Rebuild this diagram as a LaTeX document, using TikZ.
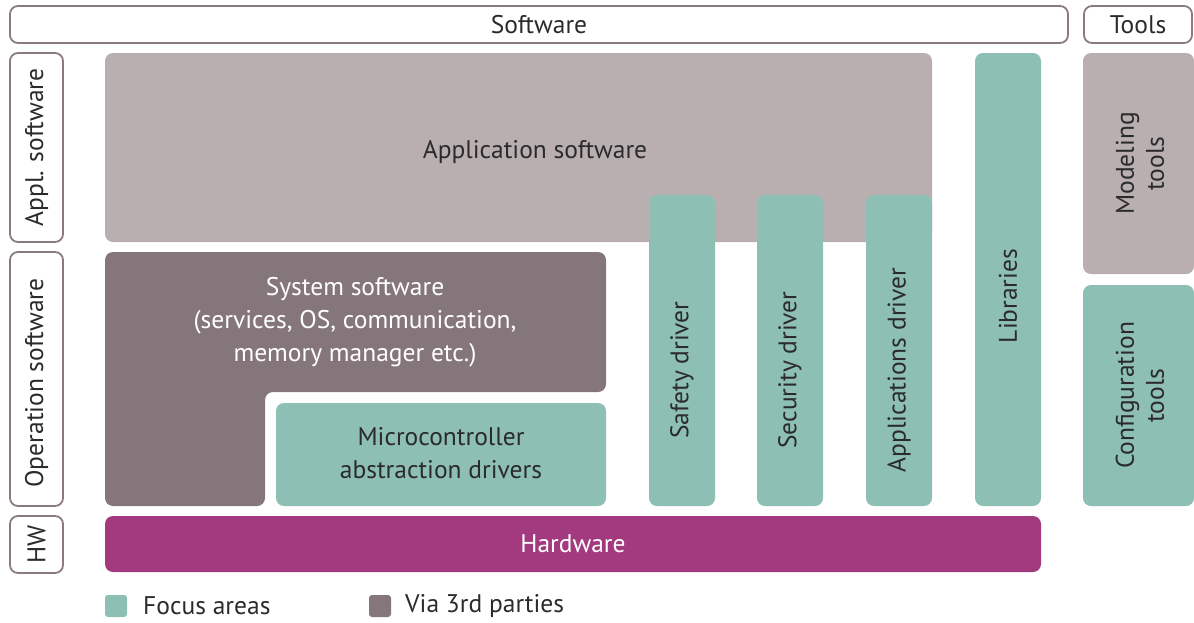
\documentclass[tikz,border=0pt]{standalone}
\usepackage{fontspec}
\setmainfont{PT Sans}
\definecolor{teal1}{HTML}{8DBFB5}
\definecolor{mauveL}{HTML}{B9AFB0}
\definecolor{mauveD}{HTML}{85767B}
\definecolor{magen}{HTML}{A3397E}
\definecolor{outl}{HTML}{8A7B80}
\definecolor{txt}{HTML}{2B2B2B}
\begin{document}
\begin{tikzpicture}[x=1pt,y=-1pt,
  every node/.style={font=\fontsize{25.5}{33}\selectfont, text=txt, inner sep=0pt, align=center},
  frame/.style={draw=outl, line width=1.8pt, rounded corners=8pt, fill=white},
  blk/.style={rounded corners=8pt, draw=none},
  lbl/.style={rotate=90}
]
\useasboundingbox (0,0) rectangle (1194,622);
% header frames
\node[frame, minimum width=1058pt, minimum height=37pt] (sw) at (539,24.5) {Software};
\node[frame, minimum width=108pt, minimum height=37pt] (tools) at (1138,24.5) {Tools};
\node[frame, minimum width=53pt, minimum height=189pt] (applF) at (36.5,147.5) {};
\node[lbl] (applT) at (36.5,147.5) {Appl. software};
\node[frame, minimum width=53pt, minimum height=254pt] (opF) at (36.5,379) {};
\node[lbl] (opT) at (36.5,383) {Operation software};
\node[frame, minimum width=53pt, minimum height=57pt] (hwF) at (36.5,544.5) {};
\node[lbl] (hwT) at (36.5,544.5) {HW};
% application software
\node[blk, fill=mauveL, minimum width=827pt, minimum height=189pt] (app) at (518.5,147.5) {};
\node (appT) at (535,152) {Application software};
% drivers
\node[blk, fill=teal1, minimum width=66pt, minimum height=311pt] (safe) at (682,350.5) {};
\node[lbl] (safeT) at (682,370) {Safety driver};
\node[blk, fill=teal1, minimum width=66pt, minimum height=311pt] (sec) at (790,350.5) {};
\node[lbl] (secT) at (790,370) {Security driver};
\node[blk, fill=teal1, minimum width=66pt, minimum height=311pt] (appdrv) at (899,350.5) {};
\node[lbl] (appdrvT) at (899,370) {Applications driver};
\node[blk, fill=teal1, minimum width=66pt, minimum height=453pt] (lib) at (1008,279.5) {};
\node[lbl] (libT) at (1008,296) {Libraries};
% system software L-shape
\fill[mauveD, rounded corners=8pt] (105,252) -- (606,252) -- (606,392) -- (265,392) -- (265,506) -- (105,506) -- cycle;
\node[text=white] (sysT) at (355,322) {System software\\(services, OS, communication,\\memory manager etc.)};
% microcontroller
\node[blk, fill=teal1, minimum width=330pt, minimum height=103pt] (mc) at (441,454.5) {};
\node (mcT) at (441,453) {Microcontroller\\abstraction drivers};
% hardware
\node[blk, fill=magen, minimum width=936pt, minimum height=56pt, text=white] (hw) at (573,544) {Hardware};
% tools
\node[blk, fill=mauveL, minimum width=111pt, minimum height=221pt] (mod) at (1138.5,163.5) {};
\node[lbl, font=\fontsize{25.5}{30}\selectfont] (modT) at (1140,163.5) {Modeling\\tools};
\node[blk, fill=teal1, minimum width=111pt, minimum height=221pt] (conf) at (1138.5,395.5) {};
\node[lbl, font=\fontsize{25.5}{30}\selectfont] (confT) at (1140,395.5) {Configuration\\tools};
% legend
\node[fill=teal1, rounded corners=3pt, minimum size=22pt] (lg1) at (116,606) {};
\node[anchor=west] (lg1T) at (143,606) {Focus areas};
\node[fill=mauveD, rounded corners=3pt, minimum size=22pt] (lg2) at (380,606) {};
\node[anchor=west] (lg2T) at (405,606) {Via 3rd parties};
\end{tikzpicture}
\end{document}
